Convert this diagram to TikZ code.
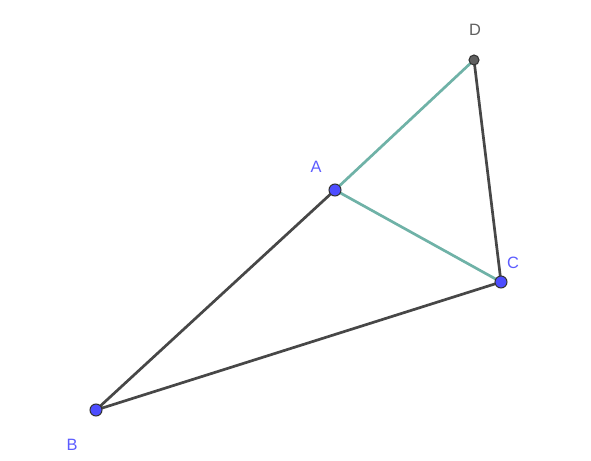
\documentclass[tikz,border=0pt]{standalone}
\usepackage{fontspec}
\setmainfont{Liberation Sans}
\definecolor{ptblue}{HTML}{4D4DFF}
\definecolor{lblblue}{HTML}{5C5CFF}
\definecolor{segdark}{HTML}{474747}
\definecolor{segteal}{HTML}{6FB2A7}
\definecolor{ptgray}{HTML}{606060}
\begin{document}
\begin{tikzpicture}[x=0.03cm, y=-0.03cm]
\useasboundingbox (0,0) rectangle (591,461);
%points
	\foreach \x/\y/\name in {335/190/A, 96/410/B, 501/282/C, 474/60/D} {
		\coordinate (\name) at (\x,\y);
	}

%segments
	\draw[segdark, line width=2.3pt] (A) -- (B) -- (C) -- (D);
	\draw[segteal, line width=2.3pt] (D) -- (A) -- (C);

%dots and labels
	\foreach \name in {A, B, C} {
		\fill[ptblue, draw=black!80, line width=0.9pt] (\name) circle (6);
	}
	\fill[ptgray, draw=black!80, line width=0.9pt] (D) circle (5);

	\node[lblblue] (labA) at (316,167) {\fontsize{14}{16}\selectfont A};
	\node[lblblue] (labB) at (72,445) {\fontsize{14}{16}\selectfont B};
	\node[lblblue] (labC) at (513,263) {\fontsize{14}{16}\selectfont C};
	\node[ptgray] (labD) at (475,30) {\fontsize{14}{16}\selectfont D};

\end{tikzpicture}
\end{document}
